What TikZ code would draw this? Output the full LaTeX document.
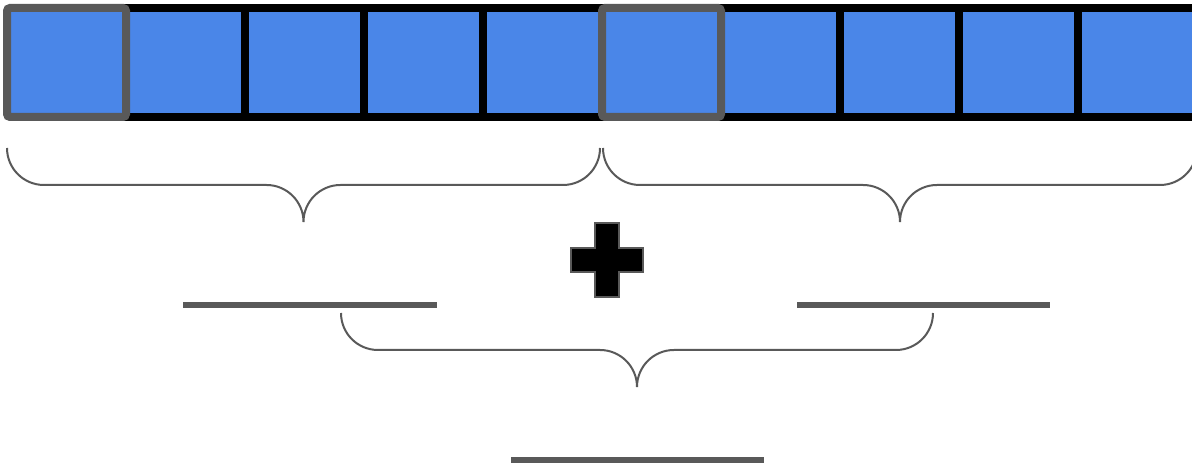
\documentclass[tikz,border=0pt]{standalone}
\usepackage{xcolor}
\usepackage{tikz}
\usetikzlibrary{positioning,calc}

\definecolor{cellblue}{HTML}{4A86E8}
\definecolor{bracegray}{HTML}{595959}

% curly brace: left x, right x, top y (radius 37)
\newcommand{\gbrace}[3]{%
  \draw[brace] (#1,#3) arc(180:270:37pt) -- ({(#1+#2)/2-37},{#3-37}) arc(90:0:37pt)
    arc(180:90:37pt) -- ({#2-37},{#3-37}) arc(270:360:37pt);}

\begin{document}
\begin{tikzpicture}[
        x=1pt, y=1pt,
        cell/.style={rectangle, draw=black, line width=8pt, fill=cellblue, minimum width=119pt, minimum height=109pt, inner sep=0pt},
        headcell/.style={cell, draw=bracegray, rounded corners=3pt},
        brace/.style={draw=bracegray, line width=2pt},
        sumbar/.style={draw=bracegray, line width=6pt}
    ]
        \useasboundingbox (0,0) rectangle (1192,465);

        % Cells
        \foreach \i in {2,3,4,5,7,8,9,10}
            \node[cell] (c\i) at ({66.5+119*(\i-1)},402.5) {};
        \foreach \i in {1,6}
            \node[headcell] (c\i) at ({66.5+119*(\i-1)},402.5) {};

        % Braces
        \gbrace{7}{600}{317}
        \gbrace{603}{1197}{317}
        \gbrace{341}{933}{152}

        % Plus sign
        \filldraw[fill=black, draw=bracegray, line width=1.5pt]
            (595,242) -- (619,242) -- (619,217) -- (643,217) -- (643,193) -- (619,193)
            -- (619,168) -- (595,168) -- (595,193) -- (571,193) -- (571,217) -- (595,217) -- cycle;

        % Result bars
        \coordinate (la) at (183,159.5);
        \coordinate (lb) at (437,159.5);
        \coordinate (ra) at (797,159.5);
        \coordinate (rb) at (1050,159.5);
        \coordinate (ba) at (511,5);
        \coordinate (bb) at (764,5);
        \draw[sumbar] (la) -- (lb);
        \draw[sumbar] (ra) -- (rb);
        \draw[sumbar] (ba) -- (bb);
    \end{tikzpicture}
\end{document}
